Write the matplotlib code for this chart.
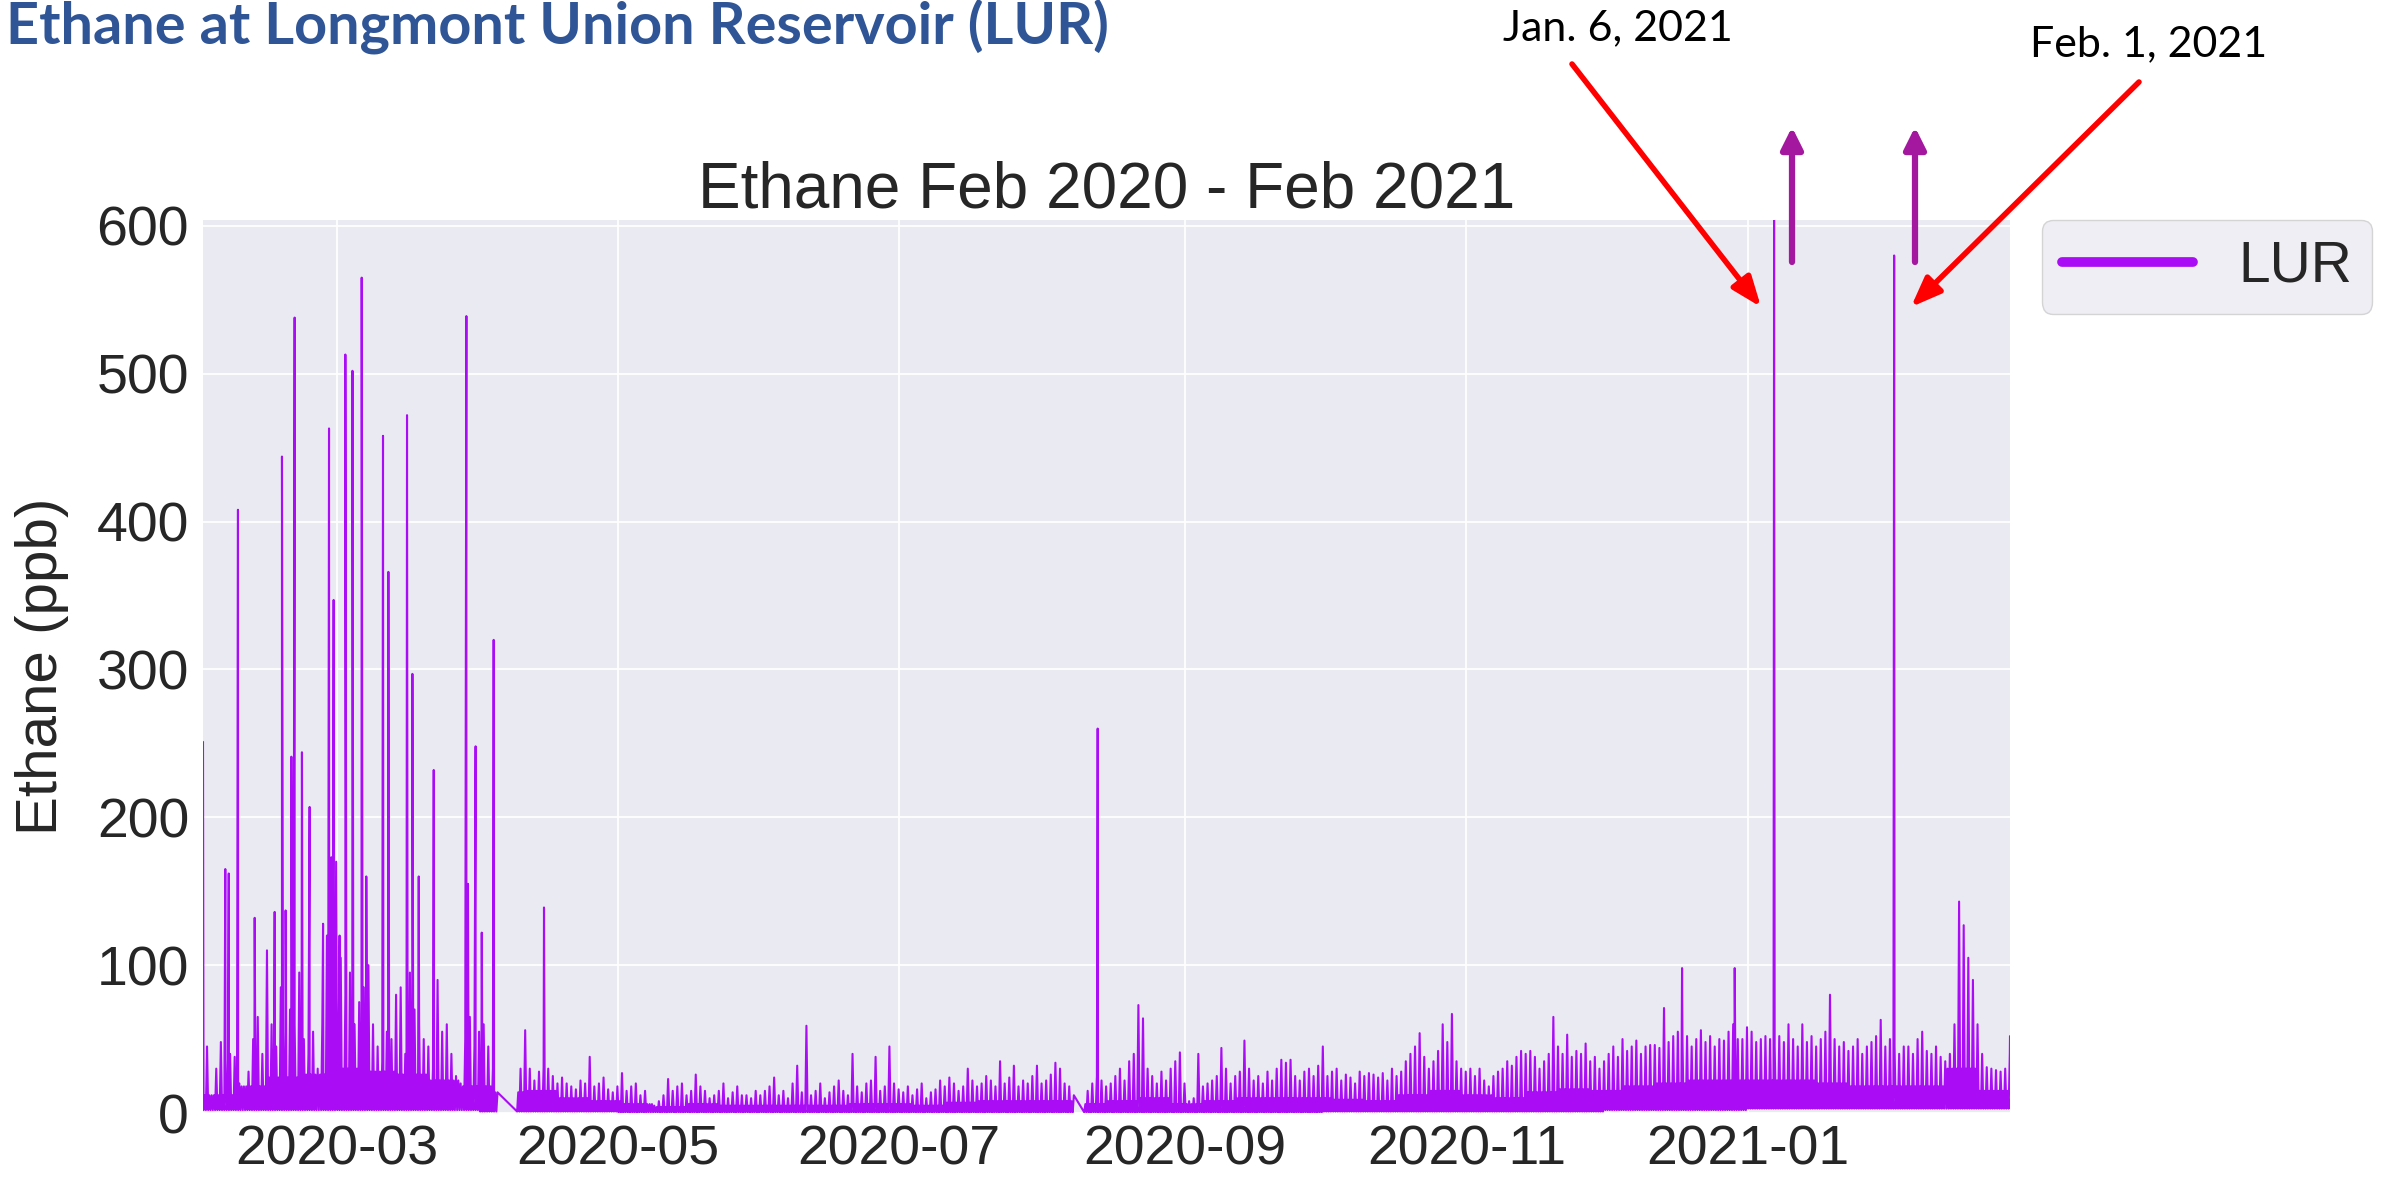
import numpy as np
import pandas as pd
import matplotlib.pyplot as plt
import matplotlib.dates as mdates
from matplotlib.patches import FancyArrowPatch

# daily upper values of the background noise (ppb), one list per month, None = no data
feb20_hi = [45, 12, 30, 48, 36, 40, 38, 20, 18, 28, 50, 65, 40, 110, 60, 45, 85, 55, 70, 60,
            95, 50, 40, 55, 30, 60, 120, 90, 170]
mar20_hi = [105, 80, 95, 60, 75, 85, 100, 60, 45, 35, 55, 50, 80, 85, 40, 95, 70, 60, 50, 45,
            30, 90, 55, 60, 40, 25, 20, 50, 65, 45, 55]
apr20_hi = [60, 45, 30, 14, None, None, None, None, 30, 56, 30, 22, 28, 31, 30, 25, 20, 24, 20, 18,
            16, 22, 20, 38, 18, 20, 24, 16, 14, 18]
may20_hi = [27, 15, 18, 20, 12, 15, 6, 5, 8, 12, 23, 15, 18, 20, 12, 15, 26, 18, 15, 10,
            12, 15, 20, 10, 14, 18, 12, 12, 10, 15, 12]
jun20_hi = [15, 18, 24, 12, 15, 10, 20, 32, 14, 59, 12, 15, 20, 10, 14, 18, 22, 15, 12, 40,
            18, 14, 20, 22, 38, 15, 18, 45, 20, 16]
jul20_hi = [14, 18, 12, 16, 20, 10, 14, 16, 22, 18, 24, 20, 15, 18, 30, 22, 18, 20, 25, 22,
            18, 35, 20, 24, 32, 18, 22, 20, 25, 32, 20]
aug20_hi = [22, 26, 34, 30, 20, 18, 12, None, None, 15, 20, 25, 22, 18, 20, 25, 30, 22, 35, 40,
            73, 64, 30, 25, 20, 28, 22, 30, 35, 41, 20]
sep20_hi = [8, 10, 40, 18, 20, 22, 25, 44, 30, 20, 25, 28, 49, 30, 22, 25, 20, 28, 22, 30,
            36, 34, 36, 25, 22, 28, 30, 25, 32, 45]
oct20_hi = [25, 28, 30, 22, 26, 24, 20, 28, 25, 27, 26, 24, 27, 22, 30, 25, 28, 35, 40, 45,
            54, 38, 30, 35, 42, 60, 48, 67, 35, 30, 28]
nov20_hi = [30, 25, 30, 22, 18, 25, 28, 30, 35, 32, 38, 42, 40, 42, 38, 30, 35, 40, 65, 45,
            40, 53, 38, 42, 40, 47, 35, 38, 30, 35]
dec20_hi = [40, 45, 38, 50, 42, 45, 49, 40, 45, 46, 46, 44, 71, 48, 52, 55, 50, 52, 45, 50,
            56, 48, 52, 45, 50, 49, 55, 60, 50, 50, 58]
jan21_hi = [55, 48, 50, 52, 50, 45, 52, 48, 60, 50, 45, 60, 48, 52, 45, 50, 55, 80, 50, 45,
            48, 42, 45, 50, 40, 45, 48, 52, 63, 45, 50]
feb21_hi = [45, 40, 45, 45, 40, 50, 55, 42, 40, 45, 38, 35, 40, 60, 143, 127, 105, 90, 60, 40,
            31, 30, 29, 28, 30, 40]

month_starts = ["2020-02-01", "2020-03-01", "2020-04-01", "2020-05-01", "2020-06-01",
                "2020-07-01", "2020-08-01", "2020-09-01", "2020-10-01", "2020-11-01",
                "2020-12-01", "2021-01-01", "2021-02-01"]
month_lo = [2, 2, 1, 0.5, 0.5, 0.5, 0.5, 0.5, 1, 1, 2, 3, 3]

# top of the dense band, one value per week from 2020-02-01
week_mid = [12, 18, 24, 26, 30, 28, 26, 22, 18,
            14, 15, 10, 8, 6, 4, 6, 5, 5,
            5, 5, 6, 6, 5, 7, 8, 8,
            8, 6, 8, 10, 6, 8, 10, 10, 10,
            9, 8, 12, 15, 12, 10, 14, 16, 15,
            18, 20, 22, 22, 22, 22, 20, 18, 18,
            18, 30, 15]

# large spikes
spike_times = ["2020-02-01 00:00", "2020-02-05 20:00", "2020-02-06 14:00", "2020-02-08 14:00",
               "2020-02-12 05:00", "2020-02-16 13:00", "2020-02-18 03:00", "2020-02-18 22:00",
               "2020-02-20 04:00", "2020-02-20 21:00", "2020-02-22 11:00", "2020-02-24 03:00",
               "2020-02-27 01:00", "2020-02-28 08:00", "2020-02-28 20:00", "2020-02-29 08:00",
               "2020-03-01 15:00", "2020-03-02 21:00", "2020-03-04 10:00", "2020-03-06 10:00",
               "2020-03-07 10:00", "2020-03-11 01:00", "2020-03-12 05:00", "2020-03-16 06:00",
               "2020-03-17 10:00", "2020-03-18 19:00", "2020-03-22 01:00", "2020-03-29 03:00",
               "2020-03-29 11:00", "2020-03-31 03:00", "2020-04-01 11:00", "2020-04-04 01:00",
               "2020-04-14 23:00", "2020-08-13 01:00", "2020-12-17 19:00", "2020-12-29 05:00",
               "2021-01-06 18:00", "2021-02-01 19:00", "2021-02-26 22:00"]
spike_values = [251, 165, 162, 408, 132, 136, 444, 137, 241, 538, 244, 207,
                128, 463, 173, 347, 120, 513, 502, 565, 160, 458, 366, 472,
                297, 160, 232, 539, 155, 248, 122, 320, 139, 260, 98, 98,
                604, 580, 52]

first_day = pd.Timestamp(month_starts[0])
times, vals = [], []
for start, his, lo in zip(month_starts,
                          [feb20_hi, mar20_hi, apr20_hi, may20_hi, jun20_hi, jul20_hi,
                           aug20_hi, sep20_hi, oct20_hi, nov20_hi, dec20_hi, jan21_hi,
                           feb21_hi],
                          month_lo):
    for i, hi in enumerate(his):
        if hi is None:
            continue
        day = pd.Timestamp(start) + pd.Timedelta(days=i)
        mid = week_mid[(day - first_day).days // 7]
        for h, v in zip([3, 9, 15, 21], [lo, mid, lo, hi]):
            times.append(day + pd.Timedelta(hours=h))
            vals.append(v)
times += [pd.Timestamp(t) for t in spike_times]
vals += spike_values
lur = pd.Series(vals, index=pd.DatetimeIndex(times)).sort_index()

plt.style.use('seaborn-v0_8-darkgrid')
plt.rcParams['font.family'] = ['Liberation Sans', 'DejaVu Sans']

W, H = 2382, 1178
fig = plt.figure(figsize=(W / 100, H / 100), dpi=100)
ax = fig.add_axes([203 / W, 1 - 1113 / H, (2010 - 203) / W, (1113 - 220) / H])

ax.plot(lur.index, lur.values, color='#AA0DF5', lw=1.5, label='LUR')
ax.set_xlim(lur.index[0], lur.index[-1])
ax.set_ylim(0, 604)
ax.set_yticks(np.arange(0, 601, 100))
ax.xaxis.set_major_locator(mdates.MonthLocator(bymonth=[1, 3, 5, 7, 9, 11]))
ax.xaxis.set_major_formatter(mdates.DateFormatter('%Y-%m'))
ax.tick_params(axis='both', labelsize=40, colors='#262626', length=0)
ax.tick_params(axis='y', pad=10)
ax.tick_params(axis='x', pad=8)
ax.grid(True, color='white', lw=1.3)
ax.set_title('Ethane Feb 2020 - Feb 2021', fontsize=46, color='#262626', pad=6)
ax.set_ylabel('Ethane (ppb)', fontsize=42, color='#262626', labelpad=20)

leg = ax.legend(loc='upper left', bbox_to_anchor=(2042 / W, 1 - 220 / H),
                bbox_transform=fig.transFigure, borderaxespad=0, fontsize=41,
                handlelength=2.3, handletextpad=0.8, borderpad=0.35, frameon=True)
for line in leg.get_lines():
    line.set_linewidth(7)
    line.set_solid_capstyle('round')

# slide heading and annotations
fig.text(1109 / W, 1 - 43 / H, 'Ethane at Longmont Union Reservoir (LUR)', ha='right',
         va='baseline', fontsize=41.5, fontweight='bold', color='#2F5597', family='Lato')
fig.text(1503 / W, 1 - 40 / H, 'Jan. 6, 2021', ha='left', va='baseline', fontsize=31,
         color='black', family='Lato')
fig.text(2030 / W, 1 - 56 / H, 'Feb. 1, 2021', ha='left', va='baseline', fontsize=31,
         color='black', family='Lato')


def px(x, y):
    return (x / W, 1 - y / H)


for tail, tip in [((1572, 64), (1761, 307)), ((2139, 82), (1911, 307))]:
    fig.patches.append(FancyArrowPatch(px(*tail), px(*tip), transform=fig.transFigure,
                                       arrowstyle='-|>,head_length=18,head_width=7',
                                       mutation_scale=1, color='red', lw=4,
                                       shrinkA=0, shrinkB=0))
for x in [1792, 1915]:
    fig.patches.append(FancyArrowPatch(px(x, 262), px(x, 127), transform=fig.transFigure,
                                       arrowstyle='-|>,head_length=13,head_width=6.5',
                                       mutation_scale=1, color='#A3189F', lw=4.5,
                                       shrinkA=0, shrinkB=0))

fig.savefig('out.png', dpi=100)
